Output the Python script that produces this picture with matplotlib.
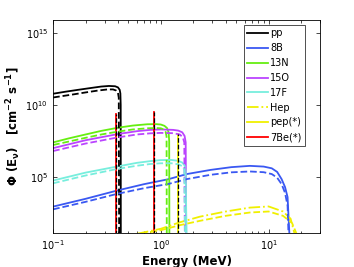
import numpy as np
import matplotlib
matplotlib.use('Agg')
import matplotlib.pyplot as plt
from matplotlib.ticker import FixedLocator, LogLocator, NullFormatter

# spectra: energy (MeV) and log10 of flux
pp_E = [0.10, 0.13, 0.17, 0.22, 0.28, 0.33, 0.376, 0.40, 0.415, 0.421, 0.424, 0.425]
pp_a = [10.78, 10.92, 11.05, 11.17, 11.28, 11.32, 11.30, 11.22, 11.05, 10.8, 10.0, 1.0]
pp_E2 = [0.10, 0.15, 0.20, 0.26, 0.32, 0.36, 0.385, 0.40, 0.407, 0.41]
pp_b = [10.52, 10.72, 10.87, 11.0, 11.08, 11.08, 11.0, 10.85, 10.5, 1.0]

b8_E = [0.1, 0.2, 0.39, 0.7, 1.17, 1.74, 2.9, 4.5, 6.7, 9.0, 10.7, 12.0, 13.2, 14.2, 15.0, 15.6]
b8_a = [2.94, 3.48, 4.05, 4.5, 4.84, 5.2, 5.49, 5.68, 5.77, 5.72, 5.6, 5.35, 4.85, 4.3, 3.6, 1.0]
b8_E2 = [0.1, 0.2, 0.39, 0.7, 1.17, 1.74, 2.9, 4.5, 6.7, 9.0, 10.7, 12.0, 13.2, 14.2, 15.0, 15.3]
b8_b = [2.75, 3.27, 3.82, 4.22, 4.51, 4.85, 5.15, 5.32, 5.38, 5.33, 5.2, 4.95, 4.5, 3.9, 3.0, 1.0]

n13_E = [0.1, 0.14, 0.2, 0.28, 0.4, 0.55, 0.75, 0.9, 1.0, 1.08, 1.14, 1.18, 1.195, 1.2]
n13_a = [7.40, 7.68, 7.95, 8.2, 8.42, 8.57, 8.66, 8.67, 8.64, 8.55, 8.4, 8.1, 7.5, 1.0]
n13_E2 = [0.1, 0.14, 0.2, 0.28, 0.4, 0.55, 0.75, 0.9, 1.0, 1.06, 1.11, 1.13, 1.135]
n13_b = [7.22, 7.46, 7.72, 7.95, 8.15, 8.3, 8.38, 8.4, 8.38, 8.3, 8.12, 7.8, 1.0]

o15_E = [0.1, 0.2, 0.4, 0.6, 0.8, 1.0, 1.3, 1.45, 1.58, 1.66, 1.70, 1.72]
o15_a = [7.0, 7.55, 7.98, 8.18, 8.27, 8.3, 8.27, 8.22, 8.1, 7.85, 7.4, 1.0]
o15_E2 = [0.1, 0.2, 0.4, 0.6, 0.8, 1.0, 1.3, 1.5, 1.6, 1.65, 1.67]
o15_b = [6.8, 7.32, 7.75, 7.95, 8.03, 8.06, 8.04, 7.95, 7.75, 7.4, 1.0]

f17_E = [0.1, 0.2, 0.39, 0.6, 0.8, 1.0, 1.25, 1.45, 1.58, 1.66, 1.70, 1.73]
f17_a = [4.75, 5.3, 5.72, 5.98, 6.1, 6.17, 6.18, 6.12, 6.0, 5.8, 5.4, 1.0]
f17_E2 = [0.1, 0.2, 0.39, 0.6, 0.8, 1.0, 1.25, 1.45, 1.58, 1.65, 1.68]
f17_b = [4.56, 5.1, 5.55, 5.78, 5.9, 5.95, 5.95, 5.88, 5.75, 5.5, 1.0]

hep_E = [0.6, 1.0, 1.5, 2.3, 4.0, 6.7, 10.0, 13.6, 16.0, 17.5]
hep_a = [1.05, 1.4, 1.85, 2.24, 2.6, 2.87, 2.95, 2.6, 2.1, 1.0]
hep_E2 = [0.65, 1.0, 1.5, 2.3, 4.0, 6.7, 10.0, 13.6, 16.5, 18.3]
hep_b = [1.05, 1.3, 1.65, 1.95, 2.3, 2.53, 2.6, 2.3, 1.8, 1.0]

# line sources: energy (MeV) and log10 of line height
pep_E = 1.44
pep_top = 8.0
be7_E = [0.384, 0.862]
be7_top = [9.4, 9.5]

blue = '#3a58f2'
green = '#66ee11'
purple = '#bb44ff'
cyan = '#77eedd'
yellow = '#f0f000'
lw = 1.3

fig = plt.figure(figsize=(3.54, 2.67), dpi=100)
ax = fig.add_axes([0.150, 0.127, 0.754, 0.798])

def p(v):
    return 10 ** np.array(v, dtype=float)

ax.plot(pp_E, p(pp_a), color='k', lw=lw, label='pp')
ax.plot(b8_E, p(b8_a), color=blue, lw=lw, label='8B')
ax.plot(n13_E, p(n13_a), color=green, lw=lw, label='13N')
ax.plot(o15_E, p(o15_a), color=purple, lw=lw, label='15O')
ax.plot(f17_E, p(f17_a), color=cyan, lw=lw, label='17F')
ax.plot(hep_E, p(hep_a), color=yellow, lw=lw, ls='-.', label='Hep')
ax.plot([pep_E, pep_E], p([1.0, pep_top]), color=yellow, lw=lw, label='pep(*)')
for i, e in enumerate(be7_E):
    ax.plot([e, e], p([1.0, be7_top[i]]), color='r', lw=lw,
            label='7Be(*)' if i == 0 else None)

# second model, dashed
ax.plot(pp_E2, p(pp_b), color='k', lw=lw, ls='--')
ax.plot(b8_E2, p(b8_b), color=blue, lw=lw, ls='--')
ax.plot(n13_E2, p(n13_b), color=green, lw=lw, ls='--')
ax.plot(o15_E2, p(o15_b), color=purple, lw=lw, ls='--')
ax.plot(f17_E2, p(f17_b), color=cyan, lw=lw, ls='--')
ax.plot(hep_E2, p(hep_b), color=yellow, lw=lw, ls='--')
ax.plot([pep_E, pep_E], p([1.0, pep_top]), color='k', lw=0.9, ls='--')
for i, e in enumerate(be7_E):
    ax.plot([e, e], p([1.0, be7_top[i]]), color='k', lw=0.9, ls='--')

ax.set_xscale('log')
ax.set_yscale('log')
ax.set_xlim(0.1, 30)
ax.set_ylim(10 ** 1.1, 10 ** 15.9)
ax.yaxis.set_major_locator(FixedLocator([1e5, 1e10, 1e15]))
ax.yaxis.set_minor_locator(FixedLocator([]))
ax.xaxis.set_minor_locator(LogLocator(base=10, subs=np.arange(2, 10)))
ax.xaxis.set_minor_formatter(NullFormatter())
ax.tick_params(which='both', direction='in', top=True, right=True, labelsize=7)
ax.tick_params(which='major', length=3, width=0.5)
ax.tick_params(which='minor', length=1.8, width=0.5)
for s in ax.spines.values():
    s.set_linewidth(0.6)

ax.set_xlabel('Energy (MeV)', fontsize=8.5, fontweight='bold', labelpad=2)
ax.set_ylabel(r'$\mathbf{\Phi}$ (E$_\mathbf{\nu}$)   [cm$^{\mathbf{-2}}$ s$^{\mathbf{-1}}$]',
              fontsize=8.5, fontweight='bold', labelpad=2)

leg = ax.legend(loc='upper right', bbox_to_anchor=(0.944, 0.977), borderaxespad=0,
                fontsize=7, frameon=True, fancybox=False, edgecolor='k',
                handlelength=2.2, handletextpad=0.2, labelspacing=0.5,
                borderpad=0.35)
leg.get_frame().set_linewidth(0.6)

fig.savefig('out.png', dpi=100)
